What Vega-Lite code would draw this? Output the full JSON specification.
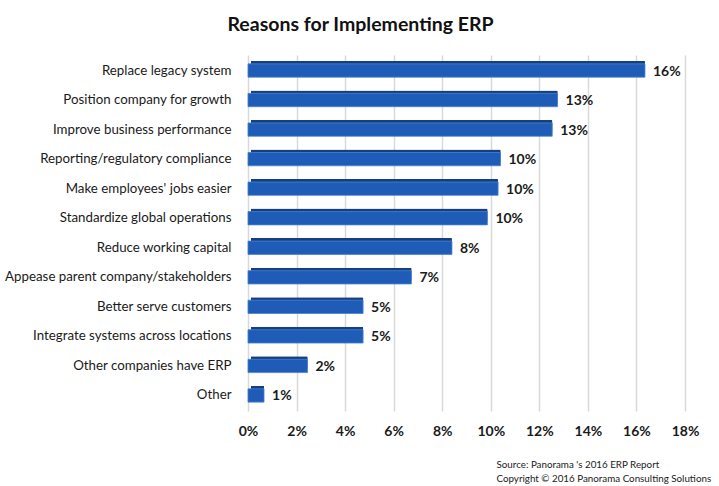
{
  "$schema": "https://vega.github.io/schema/vega-lite/v6.json",
  "width": 437,
  "height": 356,
  "autosize": {"type": "none"},
  "padding": {"left": 248, "top": 55, "right": 34, "bottom": 75},
  "background": "white",
  "title": {
    "text": "Reasons for Implementing ERP",
    "font": "Lato",
    "fontSize": 19.5,
    "fontWeight": "bold",
    "color": "#111111",
    "anchor": "middle",
    "dx": -106,
    "offset": 20
  },
  "config": {
    "view": {"stroke": null},
    "font": "Lato"
  },
  "data": {
    "values": [
      {"reason": "Replace legacy system", "pct": 0.1635},
      {"reason": "Position company for growth", "pct": 0.1275},
      {"reason": "Improve business performance", "pct": 0.1253},
      {"reason": "Reporting/regulatory compliance", "pct": 0.104},
      {"reason": "Make employees' jobs easier", "pct": 0.103},
      {"reason": "Standardize global operations", "pct": 0.0986},
      {"reason": "Reduce working capital", "pct": 0.084},
      {"reason": "Appease parent company/stakeholders", "pct": 0.0673},
      {"reason": "Better serve customers", "pct": 0.0474},
      {"reason": "Integrate systems across locations", "pct": 0.0474},
      {"reason": "Other companies have ERP", "pct": 0.0245},
      {"reason": "Other", "pct": 0.0066}
    ]
  },
  "encoding": {
    "y": {
      "field": "reason",
      "type": "nominal",
      "sort": null,
      "scale": {"paddingInner": 0.55, "paddingOuter": 0.3},
      "axis": {
        "title": null,
        "domain": false,
        "ticks": false,
        "labelFont": "Lato",
        "labelFontSize": 13.3,
        "labelColor": "#1a1a1a",
        "labelPadding": 17,
        "labelLimit": 300
      }
    },
    "x": {
      "field": "pct",
      "type": "quantitative",
      "scale": {"domain": [0, 0.18], "nice": false},
      "axis": {
        "values": [0, 0.02, 0.04, 0.06, 0.08, 0.1, 0.12, 0.14, 0.16, 0.18],
        "format": ".0%",
        "domain": false,
        "ticks": false,
        "grid": true,
        "gridColor": "#d9d9d9",
        "gridWidth": 1.5,
        "labelFlush": false,
        "labelFont": "Lato",
        "labelFontSize": 14,
        "labelFontWeight": "bold",
        "labelColor": "#1a1a1a",
        "labelPadding": 13,
        "title": ["Source: Panorama 's 2016 ERP Report", "Copyright © 2016 Panorama Consulting Solutions"],
        "titleFont": "Lato",
        "titleFontSize": 9.8,
        "titleFontWeight": "normal",
        "titleColor": "#1a1a1a",
        "titleAnchor": "start",
        "titleAlign": "left",
        "titleBaseline": "top",
        "titleLineHeight": 14,
        "titleX": 248,
        "titleY": 48
      }
    }
  },
  "layer": [
    {
      "mark": {"type": "bar", "color": "#163f80", "xOffset": 3, "yOffset": -3, "cornerRadiusEnd": 1}
    },
    {
      "mark": {"type": "bar", "color": "#1f5cb8", "stroke": "#4a82d0", "strokeWidth": 0.8}
    },
    {
      "mark": {"type": "text", "align": "left", "baseline": "middle", "dx": 8, "dy": 1, "font": "Lato", "fontSize": 14, "fontWeight": "bold", "color": "#1a1a1a"},
      "encoding": {
        "text": {"field": "pct", "type": "quantitative", "format": ".0%"}
      }
    }
  ]
}
